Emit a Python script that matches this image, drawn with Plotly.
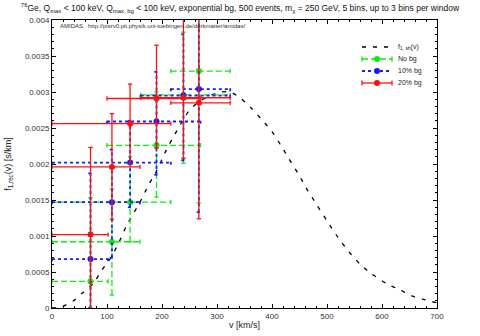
import plotly.graph_objects as go

# ---------------- data ----------------
# theoretical shifted Maxwellian f_1,sh(v)
v_theory = [0, 15, 39, 54, 75, 90, 108, 121, 136, 160, 175, 190, 205, 218, 230, 248,
            266, 287, 308, 324, 342, 362, 381, 400, 416, 431, 448, 462, 480, 500,
            520, 540, 560, 580, 608, 633, 657, 675, 700]
f_theory = [0.0, 0.00001, 0.0001, 0.0002, 0.00034, 0.00052, 0.00071, 0.0009, 0.00115,
            0.00147, 0.0017, 0.0019, 0.00215, 0.00234, 0.0025, 0.00273, 0.00286,
            0.00295, 0.0030, 0.0030, 0.00292, 0.00278, 0.00262, 0.00245, 0.00226,
            0.00207, 0.00186, 0.00167, 0.00145, 0.00121, 0.00098, 0.00078, 0.00061,
            0.00048, 0.00034, 0.00025, 0.00016, 0.00012, 0.00007]

# window centres and x-ranges (common to all three reconstructions)
v_center = [70, 109, 142, 190, 239, 267]
v_low    = [0, 0, 0, 100, 161, 216]
v_high   = [102, 160, 216, 270, 324, 324]

# No bg
f_nobg     = [0.00037, 0.00092, 0.00147, 0.00226, 0.00296, 0.00329]
f_nobg_lo  = [0.0, 0.00018, 0.00092, 0.00154, 0.00201, 0.00146]
f_nobg_hi  = [0.00153, 0.00165, 0.0021, 0.0030, 0.00383, 0.0051]

# 10% bg
f_10bg     = [0.00068, 0.00147, 0.00202, 0.00259, 0.00295, 0.00304]
f_10bg_lo  = [0.0, 0.0007, 0.0014, 0.00185, 0.00205, 0.00133]
f_10bg_hi  = [0.00187, 0.0022, 0.0026, 0.00328, 0.0038, 0.0048]

# 20% bg
f_20bg     = [0.00102, 0.00196, 0.00256, 0.00291, 0.00292, 0.00285]
f_20bg_lo  = [-0.0002, 0.00123, 0.0020, 0.00222, 0.00208, 0.00124]
f_20bg_hi  = [0.00223, 0.0027, 0.00311, 0.00365, 0.0045, 0.0050]

x_ticks = [0, 100, 200, 300, 400, 500, 600, 700]
y_ticks = [0, 0.0005, 0.001, 0.0015, 0.002, 0.0025, 0.003, 0.0035, 0.004]
y_ticktext = ["0", "0.0005", "0.001", "0.0015", "0.002", "0.0025", "0.003", "0.0035", "0.004"]

legend_labels = ["f<sub>1, sh</sub>(v)", "No bg", "10% bg", "20% bg"]

# ---------------- styling ----------------
CAP_X = 4.0        # half cap width in km/s
CAP_Y = 0.00003    # half cap height in s/km
GREEN = "#12e812"
BLUE = "#1a1aff"
RED = "#ff1010"
FONT = "Liberation Sans, Arial, sans-serif"
W, H = 480, 336
ML, MR, MT, MB = 52, 43, 20, 28
PW, PH = W - ML - MR, H - MT - MB


def errbar_path(xc, xl, xh, yc, yl, yh):
    xs, ys = [], []
    for x, x0, x1, y, y0, y1 in zip(xc, xl, xh, yc, yl, yh):
        xs += [x0, x1, None]; ys += [y, y, None]
        xs += [x0, x0, None]; ys += [y - CAP_Y, y + CAP_Y, None]
        xs += [x1, x1, None]; ys += [y - CAP_Y, y + CAP_Y, None]
        xs += [x, x, None]; ys += [y0, y1, None]
        xs += [x - CAP_X, x + CAP_X, None]; ys += [y0, y0, None]
        xs += [x - CAP_X, x + CAP_X, None]; ys += [y1, y1, None]
    return xs, ys


fig = go.Figure()

fig.add_trace(go.Scatter(
    x=v_theory, y=f_theory, mode="lines", showlegend=False,
    line=dict(color="black", width=1.3, dash="4px,7px", shape="spline", smoothing=0.6),
))

series = [
    (f_nobg, f_nobg_lo, f_nobg_hi, GREEN, "6px,3px", 1.3, True),
    (f_10bg, f_10bg_lo, f_10bg_hi, BLUE, "3px,3px", 1.8, False),
    (f_20bg, f_20bg_lo, f_20bg_hi, RED, "solid", 1.3, True),
]

for yc, yl, yh, col, dash, w, _ in series:
    xs, ys = errbar_path(v_center, v_low, v_high, yc, yl, yh)
    fig.add_trace(go.Scatter(
        x=xs, y=ys, mode="lines", showlegend=False, hoverinfo="skip",
        line=dict(color=col, width=w, dash=dash),
    ))
    fig.add_trace(go.Scatter(
        x=v_center, y=yc, mode="markers", showlegend=False,
        marker=dict(color=col, size=6, symbol="circle"),
    ))

# ---------------- hand-made legend (gnuplot style, tight rows) ----------------
def px2x(px):
    return (px - ML) / PW


def px2y(py):
    return (H - MB - py) / PH


leg_rows_px = [47, 59, 71, 83]
lx0, lx1, ltxt = 362, 392, 396
leg_styles = [("black", "4px,7px", 1.3, False, False)] + [
    (c, d, w, True, caps) for (_, _, _, c, d, w, caps) in series
]
for label, py, (col, dash, w, mk, caps) in zip(legend_labels, leg_rows_px, leg_styles):
    fig.add_shape(type="line", xref="paper", yref="paper",
                  x0=px2x(lx0), x1=px2x(lx1), y0=px2y(py), y1=px2y(py),
                  line=dict(color=col, width=w, dash=dash))
    if caps:
        for xe in (lx0, lx1):
            fig.add_shape(type="line", xref="paper", yref="paper",
                          x0=px2x(xe), x1=px2x(xe), y0=px2y(py - 2.5), y1=px2y(py + 2.5),
                          line=dict(color=col, width=w))
    if mk:
        xm = (lx0 + lx1) / 2
        fig.add_shape(type="circle", xref="paper", yref="paper",
                      x0=px2x(xm - 3), x1=px2x(xm + 3), y0=px2y(py - 3), y1=px2y(py + 3),
                      fillcolor=col, line=dict(color=col, width=0))
    fig.add_annotation(text=label, xref="paper", yref="paper",
                       x=px2x(ltxt), y=px2y(py), xanchor="left", yanchor="middle",
                       showarrow=False, font=dict(family=FONT, size=7, color="#222"))

axis_common = dict(
    showline=True, linecolor="black", linewidth=1, mirror="ticks",
    ticks="inside", ticklen=4, tickcolor="black", showgrid=False, zeroline=False,
    tickfont=dict(family=FONT, size=8, color="#333"), automargin=False,
)

fig.update_xaxes(
    range=[0, 700], tickvals=x_ticks,
    minor=dict(dtick=20, ticks="inside", ticklen=2, tickcolor="black"),
    title=dict(text="v [km/s]", font=dict(family=FONT, size=9, color="#222"), standoff=2),
    **axis_common,
)
fig.update_yaxes(
    range=[0, 0.004], tickvals=y_ticks, ticktext=y_ticktext,
    minor=dict(dtick=0.0001, ticks="inside", ticklen=2, tickcolor="black"),
    title=dict(text="f<sub>1,rec</sub>(v) [s/km]", font=dict(family=FONT, size=9, color="#222"), standoff=11),
    **axis_common,
)

fig.update_layout(
    width=W, height=H,
    margin=dict(l=ML, r=MR, t=MT, b=MB, autoexpand=False),
    paper_bgcolor="white", plot_bgcolor="white",
    title=dict(
        text="<sup>76</sup>Ge, Q<sub>max</sub> < 100 keV, Q<sub>max, bg</sub> < 100 keV, exponential bg, 500 events, m<sub>χ</sub> = 250 GeV, 5 bins, up to 3 bins per window",
        x=0.5, xanchor="center", y=0.985, yanchor="top",
        font=dict(family=FONT, size=8.5, color="#111"),
    ),
    showlegend=False,
    hovermode=False,
)

fig.add_annotation(
    text="AMIDAS   http://pisrv0.pit.physik.uni-tuebingen.de/darkmatter/amidas/",
    xref="paper", yref="paper", x=0.015, y=0.995, xanchor="left", yanchor="top",
    showarrow=False, font=dict(family=FONT, size=6, color="#333"),
)

fig.write_html(
    "out.html",
    config={"displayModeBar": False, "staticPlot": True},
    post_script="document.body.style.margin='0';document.body.style.overflow='hidden';",
)
